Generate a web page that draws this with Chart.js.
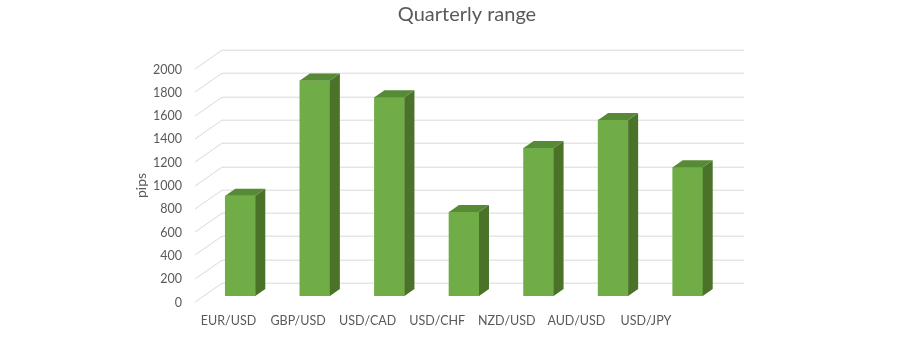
<!DOCTYPE html>
<html>
<head>
<meta charset="utf-8">
<script src="https://cdn.jsdelivr.net/npm/chart.js@4"></script>
<style>
  html, body { margin: 0; padding: 0; background: #fff; }
  #wrap { width: 900px; height: 345px; }
</style>
</head>
<body>
<div id="wrap"><canvas id="chart"></canvas></div>
<script>
const pairs = ['EUR/USD', 'GBP/USD', 'USD/CAD', 'USD/CHF', 'NZD/USD', 'AUD/USD', 'USD/JPY'];
const pips = [860, 1850, 1705, 720, 1270, 1510, 1105];
const yTicks = [0, 200, 400, 600, 800, 1000, 1200, 1400, 1600, 1800, 2000];

const FONT = 'Lato, "Open Sans", sans-serif';
const TXT = '#595959';

// fake excel 3d: gridlines with a floor diagonal, side + top faces on bars
const fake3d = {
  id: 'fake3d',
  beforeDatasetsDraw(chart) {
    const ctx = chart.ctx;
    const ca = chart.chartArea;
    const y = chart.scales.y;
    ctx.save();
    ctx.strokeStyle = '#d9d9d9';
    ctx.lineWidth = 1;
    yTicks.forEach(v => {
      const s = Math.round(y.getPixelForValue(v)) + 0.5;
      ctx.beginPath();
      ctx.moveTo(ca.left - 8, s + 5.5);
      ctx.lineTo(ca.left + 19, s - 13.3);
      ctx.lineTo(ca.right + 19, s - 13.3);
      ctx.stroke();
    });
    // y tick labels
    ctx.fillStyle = TXT;
    ctx.font = '12.5px ' + FONT;
    ctx.textAlign = 'right';
    ctx.textBaseline = 'middle';
    yTicks.forEach(v => {
      ctx.fillText(String(v), ca.left - 21, y.getPixelForValue(v) + 6.5);
    });
    // axis title
    ctx.save();
    ctx.translate(141, (ca.top + ca.bottom) / 2 + 6);
    ctx.rotate(-Math.PI / 2);
    ctx.textAlign = 'center';
    ctx.font = '14px ' + FONT;
    ctx.fillText('pips', 0, 0);
    ctx.restore();
    // category labels sit on the front floor edge, a bit squeezed
    const x = chart.scales.x;
    ctx.textAlign = 'center';
    ctx.font = '12.5px ' + FONT;
    pairs.forEach((p, i) => {
      const cx = x.getPixelForValue(i);
      ctx.fillText(p, 4.3 + cx * 0.933, ca.bottom + 25);
    });
    // chart title
    ctx.font = '20px ' + FONT;
    ctx.fillText('Quarterly range', (ca.left + ca.right) / 2 + 3, 15);
    ctx.restore();
  },
  afterDatasetsDraw(chart) {
    const ctx = chart.ctx;
    const dx = 10, dy = 7;
    chart.getDatasetMeta(0).data.forEach(bar => {
      const l = bar.x - bar.width / 2;
      const r = bar.x + bar.width / 2;
      const t = bar.y;
      const b = bar.base;
      // side
      ctx.fillStyle = '#4a7229';
      ctx.beginPath();
      ctx.moveTo(r, t);
      ctx.lineTo(r + dx, t - dy);
      ctx.lineTo(r + dx, b - dy);
      ctx.lineTo(r, b);
      ctx.closePath();
      ctx.fill();
      // top
      ctx.fillStyle = '#578a36';
      ctx.beginPath();
      ctx.moveTo(l, t);
      ctx.lineTo(l + dx, t - dy);
      ctx.lineTo(r + dx, t - dy);
      ctx.lineTo(r, t);
      ctx.closePath();
      ctx.fill();
    });
  }
};

new Chart(document.getElementById('chart'), {
  type: 'bar',
  data: {
    labels: pairs,
    datasets: [{
      label: 'pips',
      data: pips,
      backgroundColor: '#70ad47',
      barThickness: 30
    }]
  },
  options: {
    responsive: true,
    maintainAspectRatio: false,
    animation: false,
    layout: { padding: { left: 203, right: 175, top: 63, bottom: 49 } },
    plugins: {
      legend: { display: false },
      tooltip: { enabled: false }
    },
    scales: {
      x: { display: false },
      y: { display: false, min: 0, max: 2000 }
    }
  },
  plugins: [fake3d]
});
</script>
</body>
</html>
